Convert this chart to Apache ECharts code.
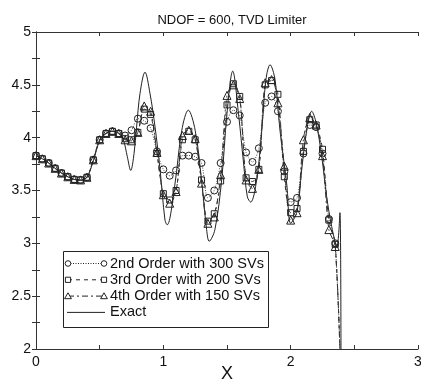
<!DOCTYPE html>
<html>
<head>
<meta charset="utf-8">
<script src="https://cdn.jsdelivr.net/npm/echarts@6/dist/echarts.min.js"></script>
<style>html,body{margin:0;padding:0;background:#fff}#c{width:421px;height:385px}</style>
</head>
<body>
<div id="c"></div>
<script>
// ---- data ----
const titleText = 'NDOF = 600, TVD Limiter';
const xName = 'X';
const seriesNames = ['2nd Order with 300 SVs', '3rd Order with 200 SVs', '4th Order with 150 SVs', 'Exact'];

const xSV = [0, 0.05, 0.1, 0.15, 0.2, 0.25, 0.3, 0.35, 0.4, 0.45, 0.5, 0.55, 0.6, 0.65, 0.7, 0.75,
  0.8, 0.85, 0.9, 0.95, 1.0, 1.05, 1.1, 1.15, 1.2, 1.25, 1.3, 1.35, 1.4, 1.45, 1.5, 1.55,
  1.6, 1.65, 1.7, 1.75, 1.8, 1.85, 1.9, 1.95, 2.0, 2.05, 2.1, 2.15, 2.2, 2.25, 2.3, 2.35, 2.4];

const second = [3.83, 3.80, 3.76, 3.71, 3.665, 3.63, 3.605, 3.60, 3.625, 3.79, 3.98, 4.04, 4.06, 4.04, 4.02, 4.07,
  4.18, 4.16, 4.09, 3.87, 3.70, 3.64, 3.69, 3.83, 3.83, 3.82, 3.76, 3.43, 3.50, 3.76, 4.15, 4.26,
  4.21, 3.86, 3.77, 3.90, 4.33, 4.39, 4.25, 3.68, 3.39, 3.43, 3.85, 4.12, 4.10, 3.85, 3.23, 3.00, 1.5];

const third = [3.83, 3.80, 3.76, 3.71, 3.665, 3.63, 3.605, 3.60, 3.625, 3.79, 3.98, 4.04, 4.06, 4.04, 3.99, 3.98,
  4.05, 4.27, 4.22, 3.85, 3.47, 3.41, 3.50, 3.98, 4.06, 3.98, 3.60, 3.21, 3.28, 3.59, 4.31, 4.51,
  4.39, 3.62, 3.585, 3.70, 4.50, 4.54, 4.41, 3.63, 3.29, 3.33, 3.87, 4.17, 4.12, 3.89, 3.22, 2.99, 1.5];

const fourth = [3.83, 3.80, 3.76, 3.71, 3.665, 3.63, 3.605, 3.60, 3.625, 3.79, 3.98, 4.04, 4.06, 4.04, 3.98, 3.97,
  4.05, 4.30, 4.25, 3.86, 3.46, 3.38, 3.49, 4.02, 4.07, 3.99, 3.57, 3.19, 3.25, 3.65, 4.40, 4.50,
  4.37, 3.60, 3.52, 3.70, 4.52, 4.55, 4.33, 3.73, 3.22, 3.29, 3.98, 4.19, 4.12, 3.83, 3.13, 2.97, 1.5];

const exactX = [0, 0.05, 0.1, 0.15, 0.2, 0.25, 0.3, 0.35, 0.4, 0.45, 0.5, 0.55, 0.6, 0.65, 0.686, 0.717,
  0.744, 0.77, 0.79, 0.817, 0.856, 0.895, 0.935, 0.974, 1.013, 1.03, 1.09, 1.145, 1.196, 1.25, 1.30,
  1.34, 1.36, 1.405, 1.458, 1.50, 1.545, 1.59, 1.63, 1.66, 1.686, 1.733, 1.773, 1.806, 1.838, 1.877,
  1.916, 1.97, 2.0, 2.05, 2.087, 2.126, 2.165, 2.2, 2.244, 2.283, 2.322, 2.362, 2.387, 2.396];
const exactY = [3.83, 3.80, 3.76, 3.71, 3.665, 3.63, 3.605, 3.595, 3.625, 3.78, 3.97, 4.04, 4.06, 4.04, 3.98, 3.82,
  3.69, 3.85, 4.10, 4.42, 4.62, 4.42, 4.10, 3.70, 3.22, 3.175, 3.55, 4.07, 4.26, 4.07, 3.60,
  3.13, 3.02, 3.13, 3.60, 4.23, 4.63, 4.23, 3.76, 3.44, 3.39, 3.60, 4.07, 4.55, 4.69, 4.55,
  4.07, 3.55, 3.19, 3.30, 3.70, 4.07, 4.25, 4.14, 3.82, 3.44, 3.16, 2.97, 3.29, 1.0];

// ---- build ----
const FONT = '"Liberation Sans", Arial, sans-serif';
function pts(xs, ys, lastNoSymbol) {
  return xs.map((x, i) => {
    const p = { value: [x, ys[i]] };
    if (lastNoSymbol && i === xs.length - 1) p.symbol = 'none';
    return p;
  });
}
const chart = echarts.init(document.getElementById('c'), null, { renderer: 'canvas' });

const axisCommon = {
  type: 'value',
  axisLine: { show: true, lineStyle: { color: '#333', width: 1 } },
  axisTick: { show: true, inside: true, length: 4, lineStyle: { color: '#333' } },
  splitLine: { show: false }
};

const lx1 = 68, lx2 = 104, tx = 110;
const rowsY = [263.5, 279.8, 296.1, 312.4];
function lineEl(y, dash) {
  return { type: 'line', shape: { x1: lx1, y1: y, x2: lx2, y2: y },
    style: { stroke: '#222', lineWidth: 1, lineDash: dash } };
}
function circ(x, y) { return { type: 'circle', shape: { cx: x, cy: y, r: 2.8 }, style: { fill: '#fff', stroke: '#222', lineWidth: 1 } }; }
function sq(x, y) { return { type: 'rect', shape: { x: x - 2.6, y: y - 2.6, width: 5.2, height: 5.2 }, style: { fill: '#fff', stroke: '#222', lineWidth: 1 } }; }
function tri(x, y) { return { type: 'polygon', shape: { points: [[x, y - 3.3], [x + 3.4, y + 2.6], [x - 3.4, y + 2.6]] }, style: { fill: '#fff', stroke: '#222', lineWidth: 1 } }; }
function txt(y, s) { return { type: 'text', x: tx, y: y, style: { text: s, font: '14.5px ' + FONT, fill: '#111', verticalAlign: 'middle' } }; }

const legendEls = [
  { type: 'rect', shape: { x: 63.5, y: 251.5, width: 205, height: 76 }, style: { fill: '#fff', stroke: '#222', lineWidth: 1 } },
  lineEl(rowsY[0], [1, 1.5]), circ(lx1, rowsY[0]), circ(lx2, rowsY[0]), txt(rowsY[0], seriesNames[0]),
  lineEl(rowsY[1], [4, 4]), sq(lx1, rowsY[1]), sq(lx2, rowsY[1]), txt(rowsY[1], seriesNames[1]),
  lineEl(rowsY[2], [6, 3, 2, 3]), tri(lx1, rowsY[2]), tri(lx2, rowsY[2]), txt(rowsY[2], seriesNames[2]),
  { type: 'line', shape: { x1: 67, y1: rowsY[3], x2: 105, y2: rowsY[3] }, style: { stroke: '#222', lineWidth: 1 } },
  txt(rowsY[3], seriesNames[3])
];

const option = {
  animation: false,
  backgroundColor: '#fff',
  title: {
    text: titleText, left: 227, top: 9, textAlign: 'center',
    textStyle: { fontFamily: FONT, fontSize: 13, fontWeight: 'normal', color: '#111' }
  },
  grid: { left: 36, right: 3, top: 32, bottom: 36, containLabel: false, outerBoundsMode: 'none' },
  xAxis: [
    Object.assign({}, axisCommon, {
      min: 0, max: 3, interval: 0.5, position: 'bottom',
      name: xName, nameLocation: 'middle', nameGap: 16, nameMoveOverlap: false,
      nameTextStyle: { fontFamily: FONT, fontSize: 18, color: '#111' },
      axisLabel: { show: true, margin: 6, fontFamily: FONT, fontSize: 14, color: '#111',
        formatter: v => (Math.abs(v - Math.round(v)) < 1e-9 ? String(Math.round(v)) : '') }
    }),
    Object.assign({}, axisCommon, { min: 0, max: 3, interval: 0.5, position: 'top', axisLabel: { show: false } })
  ],
  yAxis: [
    Object.assign({}, axisCommon, {
      min: 2, max: 5, interval: 0.25, position: 'left',
      axisLabel: { show: true, margin: 5, fontFamily: FONT, fontSize: 14, color: '#111',
        formatter: v => (Math.abs(v * 2 - Math.round(v * 2)) < 1e-9 ? String(v) : '') }
    }),
    Object.assign({}, axisCommon, { min: 2, max: 5, interval: 0.25, position: 'right', axisLabel: { show: false } })
  ],
  series: [
    {
      name: seriesNames[3], type: 'line', data: pts(exactX, exactY, false), showSymbol: false, symbol: 'none',
      smooth: 0.35, lineStyle: { color: '#222', width: 1 }, z: 2
    },
    {
      name: seriesNames[0], type: 'line', data: pts(xSV, second, true), smooth: 0.3,
      symbol: 'circle', symbolSize: 7,
      itemStyle: { color: 'rgba(255,255,255,0)', borderColor: '#222', borderWidth: 1 },
      lineStyle: { color: '#444', width: 1, type: [1, 1.5] }, z: 3
    },
    {
      name: seriesNames[1], type: 'line', data: pts(xSV, third, true), smooth: 0.3,
      symbol: 'rect', symbolSize: 6,
      itemStyle: { color: 'rgba(255,255,255,0)', borderColor: '#222', borderWidth: 1 },
      lineStyle: { color: '#333', width: 1, type: [4, 4] }, z: 3
    },
    {
      name: seriesNames[2], type: 'line', data: pts(xSV, fourth, true), smooth: 0.3,
      symbol: 'triangle', symbolSize: 8,
      itemStyle: { color: 'rgba(255,255,255,0)', borderColor: '#222', borderWidth: 1 },
      lineStyle: { color: '#333', width: 1, type: [6, 3, 2, 3] }, z: 3
    }
  ],
  graphic: { elements: legendEls }
};
chart.setOption(option);
</script>
</body>
</html>
